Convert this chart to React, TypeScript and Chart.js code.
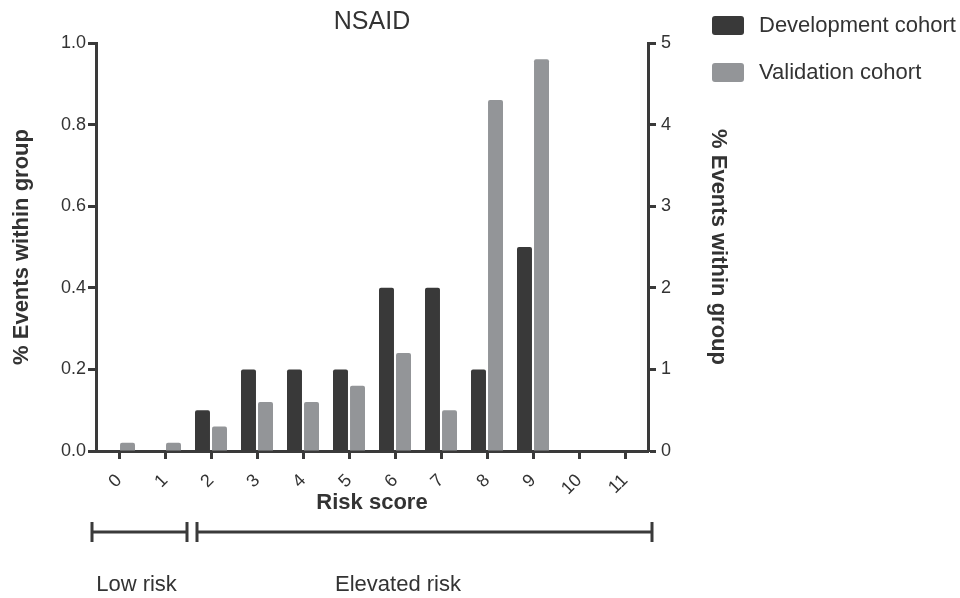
import React, { useEffect, useRef } from 'react';
import { Chart, registerables } from 'chart.js';

Chart.register(...registerables);

const riskScores = ['0', '1', '2', '3', '4', '5', '6', '7', '8', '9', '10', '11'];
const developmentCohort = [0, 0, 0.1, 0.2, 0.2, 0.2, 0.4, 0.4, 0.2, 0.5, 0, 0];
const validationCohort = [0.1, 0.1, 0.3, 0.6, 0.6, 0.8, 1.2, 0.5, 4.3, 4.8, 0, 0];
const leftAxisMax = 1.0;
const leftAxisStep = 0.2;
const rightAxisMax = 5;
const rightAxisStep = 1;
const riskGroupLabels = ['Low risk', 'Elevated risk'];
const riskGroupFrom = [0, 2];
const riskGroupTo = [1, 11];

const DEV_COLOR = '#393939';
const VAL_COLOR = '#939598';
const AXIS_COLOR = '#3a3a3a';
const TEXT_COLOR = '#333333';
const FONT = "'Liberation Sans', Arial, Helvetica, sans-serif";

const overlayPlugin = {
  id: 'overlay',
  afterDraw(chart: any) {
    const ctx = chart.ctx as CanvasRenderingContext2D;
    const xs = chart.scales.x;
    const half = (xs.getPixelForValue(1) - xs.getPixelForValue(0)) / 2;
    ctx.save();
    // risk group brackets
    ctx.strokeStyle = AXIS_COLOR;
    ctx.lineWidth = 3;
    const yLine = xs.bottom + 16;
    const insetsL = [-4, 9];
    const insetsR = [-1, 4];
    const textCenters: number[] = [];
    for (let i = 0; i < riskGroupLabels.length; i++) {
      const x0 = xs.getPixelForValue(riskGroupFrom[i]) - half + insetsL[i];
      const x1 = xs.getPixelForValue(riskGroupTo[i]) + half + insetsR[i];
      ctx.beginPath();
      ctx.moveTo(x0, yLine);
      ctx.lineTo(x1, yLine);
      ctx.moveTo(x0, yLine - 10);
      ctx.lineTo(x0, yLine + 10);
      ctx.moveTo(x1, yLine - 10);
      ctx.lineTo(x1, yLine + 10);
      ctx.stroke();
      textCenters.push(i === 0 ? (x0 + x1) / 2 - 3 : xs.getPixelForValue(6) + 3);
    }
    ctx.fillStyle = TEXT_COLOR;
    ctx.font = `22px ${FONT}`;
    ctx.textAlign = 'center';
    ctx.textBaseline = 'middle';
    for (let i = 0; i < riskGroupLabels.length; i++) {
      ctx.fillText(riskGroupLabels[i], textCenters[i], xs.bottom + 69);
    }
    // legend
    const lx = chart.chartArea.right + 64;
    const datasets = chart.data.datasets;
    ctx.textAlign = 'left';
    for (let i = 0; i < datasets.length; i++) {
      const top = 16 + i * 47;
      ctx.fillStyle = datasets[i].backgroundColor;
      ctx.beginPath();
      (ctx as any).roundRect(lx, top, 32, 19, 3);
      ctx.fill();
      ctx.fillStyle = TEXT_COLOR;
      ctx.fillText(datasets[i].label, lx + 47, top + 10);
    }
    ctx.restore();
  },
};

export default function App() {
  const ref = useRef<HTMLCanvasElement | null>(null);
  useEffect(() => {
    if (!ref.current) return;
    const tickFont = { family: FONT, size: 18 };
    const titleFont = { family: FONT, size: 22, weight: 'bold' as const };
    const chart = new Chart(ref.current, {
      type: 'bar',
      data: {
        labels: riskScores,
        datasets: [
          {
            label: 'Development cohort',
            data: developmentCohort,
            backgroundColor: DEV_COLOR,
            yAxisID: 'y',
            categoryPercentage: 0.74,
            barPercentage: 0.88,
            borderRadius: 2,
          },
          {
            label: 'Validation cohort',
            data: validationCohort,
            backgroundColor: VAL_COLOR,
            yAxisID: 'y1',
            categoryPercentage: 0.74,
            barPercentage: 0.88,
            borderRadius: 2,
          },
        ],
      },
      options: {
        responsive: false,
        animation: false,
        devicePixelRatio: 1,
        layout: { padding: { left: 0, right: 222, top: 0, bottom: 82 } },
        plugins: {
          legend: { display: false },
          tooltip: { enabled: false },
          title: {
            display: true,
            text: 'NSAID',
            fullSize: false,
            color: TEXT_COLOR,
            font: { family: FONT, size: 25, weight: 'normal' },
            padding: { top: 7, bottom: 6 },
          },
        },
        scales: {
          x: {
            offset: true,
            grid: {
              offset: false,
              drawOnChartArea: false,
              drawTicks: true,
              tickLength: 8,
              tickWidth: 3,
              tickColor: AXIS_COLOR,
            },
            border: { display: true, width: 3, color: AXIS_COLOR },
            ticks: {
              color: TEXT_COLOR,
              font: tickFont,
              minRotation: 45,
              maxRotation: 45,
              padding: 11,
              autoSkip: false,
            },
            title: {
              display: true,
              text: 'Risk score',
              color: TEXT_COLOR,
              font: titleFont,
              padding: { top: 0, bottom: 0 },
            },
            afterFit: (s: any) => {
              s.height = 65;
            },
          },
          y: {
            position: 'left',
            min: 0,
            max: leftAxisMax,
            grid: {
              drawOnChartArea: false,
              tickLength: 8,
              tickWidth: 3,
              tickColor: AXIS_COLOR,
            },
            border: { display: true, width: 3, color: AXIS_COLOR },
            ticks: {
              stepSize: leftAxisStep,
              color: TEXT_COLOR,
              font: tickFont,
              padding: 2,
              callback: (v: any) => Number(v).toFixed(1),
            },
            title: {
              display: true,
              text: '% Events within group',
              color: TEXT_COLOR,
              font: titleFont,
              padding: { top: 9, bottom: 0 },
            },
            afterFit: (s: any) => {
              s.width = 96;
            },
          },
          y1: {
            position: 'right',
            min: 0,
            max: rightAxisMax,
            grid: {
              drawOnChartArea: false,
              tickLength: 8,
              tickWidth: 3,
              tickColor: AXIS_COLOR,
            },
            border: { display: true, width: 3, color: AXIS_COLOR },
            ticks: {
              stepSize: rightAxisStep,
              color: TEXT_COLOR,
              font: tickFont,
              padding: 5,
            },
            title: {
              display: true,
              text: '% Events within group',
              color: TEXT_COLOR,
              font: titleFont,
              padding: { top: 7, bottom: 0 },
            },
            afterFit: (s: any) => {
              s.width = 90;
            },
          },
        },
      },
      plugins: [overlayPlugin],
    } as any);
    return () => chart.destroy();
  }, []);
  return (
    <div style={{ position: 'fixed', left: 0, top: 0, width: 960, height: 598, background: '#fff' }}>
      <canvas ref={ref} width={960} height={598} style={{ display: 'block' }} />
    </div>
  );
}
